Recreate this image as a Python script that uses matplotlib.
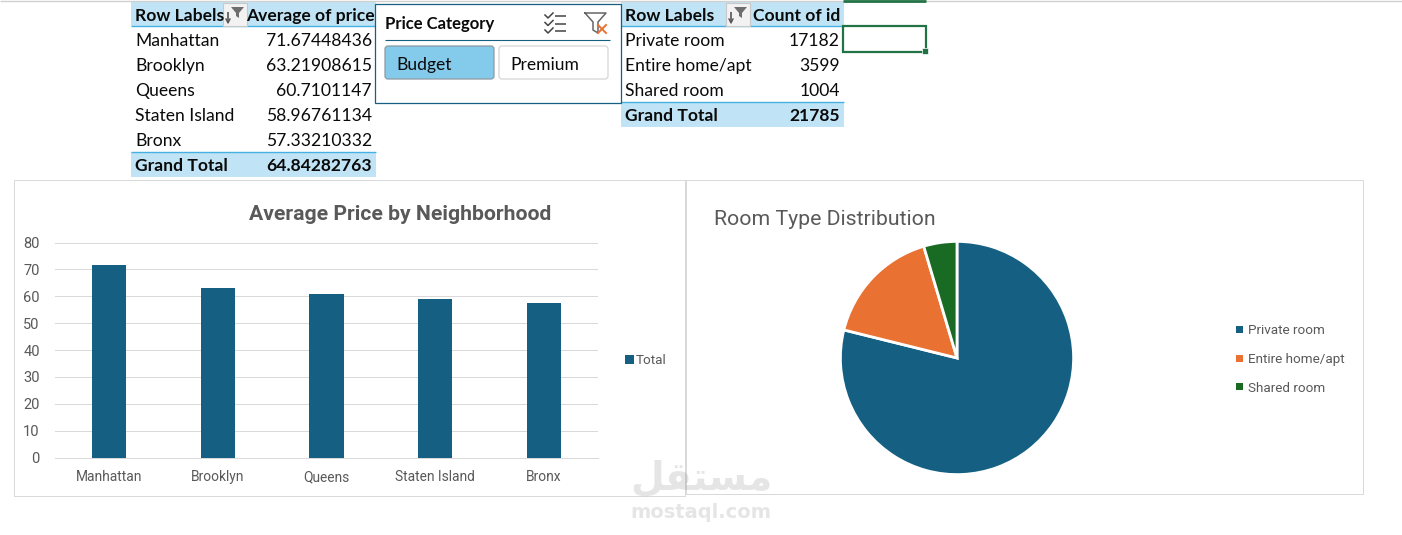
import matplotlib
matplotlib.use('Agg')
import matplotlib.pyplot as plt
from matplotlib.patches import Rectangle, FancyBboxPatch, Polygon

W, H = 1402, 535

neighborhoods = ['Manhattan', 'Brooklyn', 'Queens', 'Staten Island', 'Bronx']
avg_price = [71.67448436, 63.21908615, 60.7101147, 58.96761134, 57.33210332]
avg_price_text = ['71.67448436', '63.21908615', '60.7101147', '58.96761134', '57.33210332']
avg_total = '64.84282763'
room_types = ['Private room', 'Entire home/apt', 'Shared room']
room_counts = [17182, 3599, 1004]
count_total = '21785'
y_ticks = [0, 10, 20, 30, 40, 50, 60, 70, 80]

BLUE = '#156082'
ORANGE = '#E97132'
GREEN = '#196B24'
HEAD = '#C0E4F5'
HEAD_LINE = '#45B0E1'
GRAY = '#595959'
UI = 'Lato'
CHART = 'Roboto'

plt.rcParams['font.family'] = ['Lato', 'DejaVu Sans']
fig = plt.figure(figsize=(W / 100, H / 100), dpi=100, facecolor='white')


def px_axes(x0, y0, x1, y1):
    # axes placed by pixel box, y counted from the top of the sheet
    return fig.add_axes([x0 / W, 1 - y1 / H, (x1 - x0) / W, (y1 - y0) / H])


# sheet layer in pixel coordinates
bg = fig.add_axes([0, 0, 1, 1], zorder=0)
bg.set_xlim(0, W)
bg.set_ylim(H, 0)
bg.axis('off')


def rect(x, y, w, h, fc='none', ec='none', lw=1, z=1):
    bg.add_patch(Rectangle((x, y), w, h, fc=fc, ec=ec, lw=lw, zorder=z))


def line(x0, y0, x1, y1, color, lw=1, z=2):
    bg.plot([x0, x1], [y0, y1], color=color, lw=lw, zorder=z, solid_capstyle='butt')


def txt(x, y, s, size=12.6, ha='left', bold=False, color='#0A0A0A', family=UI, z=5):
    # baseline anchored so rows stay level whatever letters they hold
    bg.text(x, y + size * 0.48, s, fontsize=size, ha=ha, va='baseline', color=color, family=family,
            fontweight='bold' if bold else 'normal', zorder=z)


def filter_button(x, y):
    # sort/filter button in the pivot header
    rect(x, y, 24, 23, fc='#F2F2F2', ec='#C8C8C8', lw=0.8, z=3)
    bg.add_patch(Polygon([(x + 8, y + 4), (x + 21, y + 4), (x + 16, y + 10), (x + 16, y + 15),
                          (x + 13, y + 13), (x + 13, y + 10)], fc='#6E6E6E', ec='none', zorder=4))
    line(x + 5, y + 9, x + 5, y + 19, '#555555', 1.2, 4)
    bg.plot([x + 3, x + 5, x + 7], [y + 16, y + 20, y + 16], color='#555555', lw=1, zorder=4)


# top edge of the grid
line(0, 1, W, 1, '#D0D0D0', 1)
line(843, 1, 926, 1, '#217346', 2)

# left pivot table
rect(131, 2, 245, 24, fc=HEAD)
line(131, 26, 376, 26, HEAD_LINE, 1)
rect(131, 152, 245, 25, fc=HEAD)
line(131, 152, 376, 152, HEAD_LINE, 1)
filter_button(223, 3)
txt(135, 15, 'Row Labels', bold=True)
txt(375, 15, 'Average of price', ha='right', bold=True)
for i, (n, v) in enumerate(zip(neighborhoods, avg_price_text)):
    txt(135, 40 + i * 25, n)
    txt(372, 40 + i * 25, v, ha='right')
txt(135, 165, 'Grand Total', bold=True)
txt(372, 165, avg_total, ha='right', bold=True)

# right pivot table
rect(621, 2, 223, 24, fc=HEAD)
line(621, 26, 844, 26, HEAD_LINE, 1)
rect(621, 102, 223, 25, fc=HEAD)
line(621, 102, 844, 102, HEAD_LINE, 1)
filter_button(726, 3)
txt(625, 15, 'Row Labels', bold=True)
txt(840, 15, 'Count of id', ha='right', bold=True)
for i, (n, v) in enumerate(zip(room_types, room_counts)):
    txt(625, 40 + i * 25, n)
    txt(840, 40 + i * 25, str(v), ha='right')
txt(625, 115, 'Grand Total', bold=True)
txt(840, 115, count_total, ha='right', bold=True)

# selected cell
rect(843, 26, 83, 26, ec='#217346', lw=1.6, z=3)
rect(922, 48, 6, 6, fc='#217346', ec='white', lw=0.5, z=4)

# slicer
rect(375, 4, 246, 99, fc='white', ec=BLUE, lw=0.9, z=3)
line(385, 40, 610, 40, BLUE, 0.8, 4)
txt(385, 23, 'Price Category', size=12, bold=True)
bg.add_patch(FancyBboxPatch((385, 46), 109, 33, boxstyle='round,pad=0,rounding_size=3',
                            fc='#83CAEB', ec='#8C9AA3', lw=0.9, zorder=4))
bg.add_patch(FancyBboxPatch((499, 46), 109, 33, boxstyle='round,pad=0,rounding_size=3',
                            fc='white', ec='#D5D5D5', lw=0.9, zorder=4))
txt(396, 64, 'Budget')
txt(510, 64, 'Premium')
# slicer header icons
for k in range(3):
    yy = 15 + k * 7.5
    bg.plot([545, 548, 553], [yy, yy + 3, yy - 2], color='#444444', lw=1.1, zorder=5)
    line(555, yy + 1, 566, yy + 1, '#444444', 1.1, 5)
bg.plot([585, 606, 598, 598, 593, 593, 585], [13, 13, 22, 33, 30, 22, 13],
        color='#666666', lw=1.1, zorder=5)
bg.plot([598, 606], [25, 33], color=ORANGE, lw=1.4, zorder=5)
bg.plot([606, 598], [25, 33], color=ORANGE, lw=1.4, zorder=5)

# chart frames
rect(14, 180, 671, 316, fc='white', ec='#D9D9D9', lw=0.72)
rect(686, 180, 677, 314, fc='white', ec='#D9D9D9', lw=0.72)

# bar chart
ax = px_axes(55, 242.5, 598, 457.5)
ax.set_zorder(2)
ax.patch.set_alpha(0)
ax.bar(range(5), avg_price, width=0.315, color=BLUE, zorder=3)
ax.set_xlim(-0.5, 4.5)
ax.set_ylim(0, 80)
ax.set_yticks(y_ticks)
ax.set_xticks(range(5))
ax.set_xticklabels(neighborhoods, family=CHART, fontsize=9.9, color=GRAY)
ax.tick_params(length=0)
ax.tick_params(axis='x', pad=17)
ax.tick_params(axis='y', pad=11, labelsize=10.5, labelcolor=GRAY)
for lab in ax.get_xticklabels():
    lab.set_va('baseline')
for lab in ax.get_yticklabels():
    lab.set_family(CHART)
    lab.set_va('center_baseline')
ax.grid(axis='y', color='#D9D9D9', lw=0.72, zorder=0)
for s in ['top', 'right', 'left']:
    ax.spines[s].set_visible(False)
ax.spines['bottom'].set_color('#D9D9D9')
ax.spines['bottom'].set_linewidth(0.72)

txt(400, 213, 'Average Price by Neighborhood', size=15.25, ha='center', bold=True, color=GRAY, family=CHART)
rect(625, 355, 9, 9, fc=BLUE)
txt(636, 359.5, 'Total', size=9.7, color=GRAY, family=CHART)

# pie chart
pie_ax = px_axes(839, 240, 1075, 476)
pie_ax.set_zorder(2)
pie_ax.pie(room_counts, colors=[BLUE, ORANGE, GREEN], startangle=90, counterclock=False, radius=1.0,
           wedgeprops={'edgecolor': 'white', 'linewidth': 2})
pie_ax.set_xlim(-1.012, 1.012)
pie_ax.set_ylim(-1.012, 1.012)

txt(714, 217.5, 'Room Type Distribution', size=15.3, color=GRAY, family=CHART)
for i, n in enumerate(room_types):
    rect(1236, 326 + i * 28.7, 7, 7, fc=[BLUE, ORANGE, GREEN][i])
    txt(1248, 329.5 + i * 28.7, n, size=9.7, color=GRAY, family=CHART)

# site mark, glyphs given in display order because text is drawn left to right
fig.text(701 / W, 1 - 479 / H, '\uFEDE\uFED8\uFE98\uFEB4\uFEE3', fontsize=28, fontweight='bold', family='DejaVu Sans',
         color='#808080', alpha=0.2, ha='center', va='center', zorder=10)
fig.text(701 / W, 1 - 512 / H, 'mostaql.com', fontsize=14, fontweight='bold', family='DejaVu Sans',
         color='#808080', alpha=0.2, ha='center', va='center', zorder=10)

fig.savefig('out.png', dpi=100)
